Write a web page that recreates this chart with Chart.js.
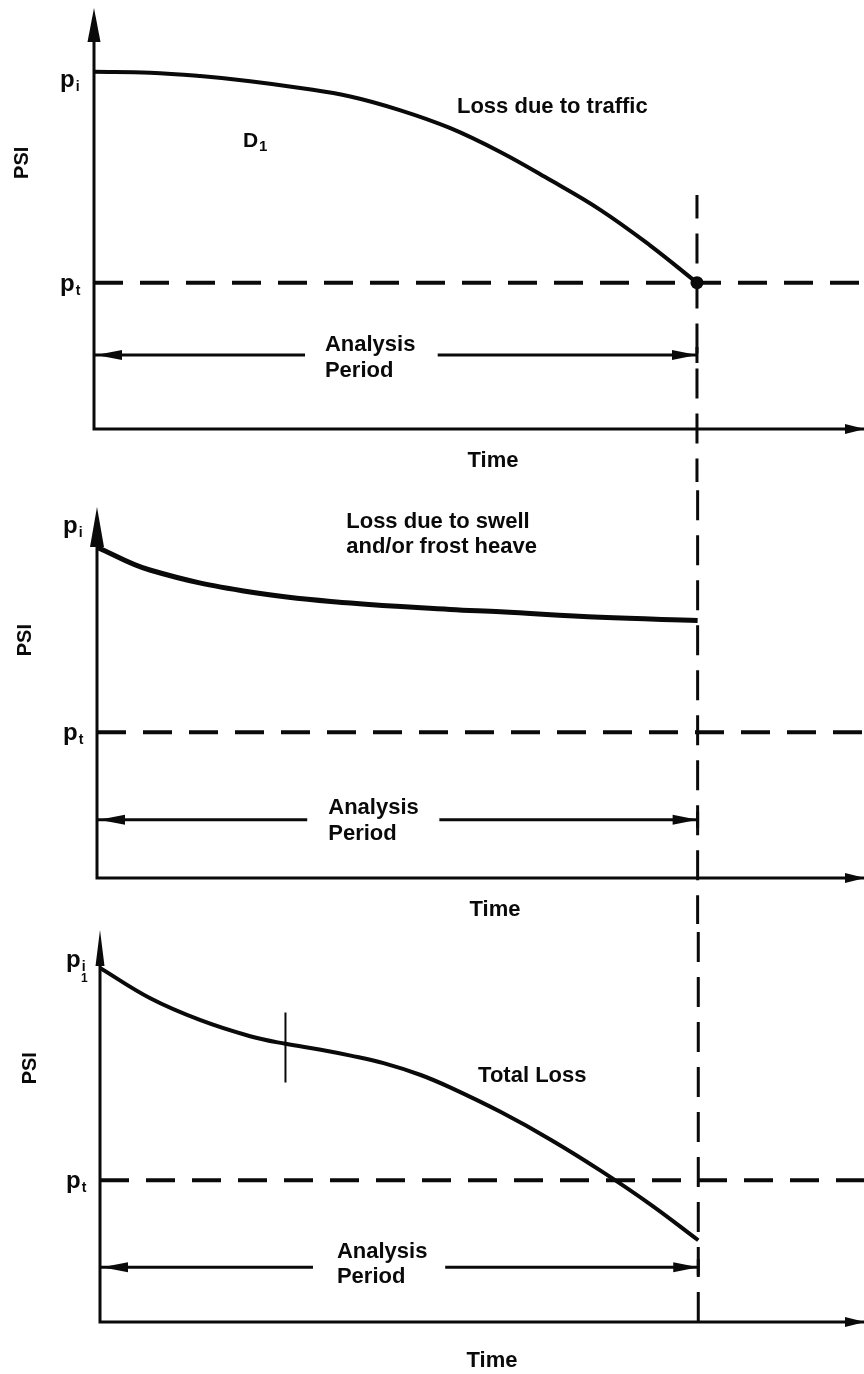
<!DOCTYPE html>
<html>
<head>
<meta charset="utf-8">
<script src="https://cdn.jsdelivr.net/npm/chart.js@4.4.1/dist/chart.umd.min.js"></script>
<style>
  html, body { margin: 0; padding: 0; background: #fff; }
  #wrap { position: relative; width: 864px; height: 1374px; overflow: hidden; }
  canvas { position: absolute; left: 0; }
</style>
</head>
<body>
<div id="wrap">
  <canvas id="panel1" width="864" height="482" style="top:0px"></canvas>
  <canvas id="panel2" width="864" height="442" style="top:482px"></canvas>
  <canvas id="panel3" width="864" height="450" style="top:924px"></canvas>
</div>
<script>
'use strict';

// time is in units of the analysis period, PSI in plot units (p_i = 4.2)
const ANALYSIS_END = 1.0;
const TIME_MAX = 1.277;

const trafficTime = [0, 0.093, 0.176, 0.259, 0.342, 0.425, 0.507, 0.590, 0.673, 0.756, 0.839, 0.922, 1.0];
const trafficPsi = [4.20, 4.19, 4.15, 4.09, 4.01, 3.91, 3.75, 3.54, 3.26, 2.93, 2.58, 2.16, 1.72];

const swellTime = [0, 0.088, 0.255, 0.422, 0.588, 0.672, 0.838, 1.0];
const swellPsi = [4.20, 3.91, 3.63, 3.49, 3.41, 3.38, 3.31, 3.27];

const totalTime = [0, 0.084, 0.168, 0.251, 0.310, 0.369, 0.419, 0.474, 0.536, 0.586, 0.670, 0.754, 0.838, 0.921, 1.0];
const totalPsi = [4.20, 3.84, 3.58, 3.39, 3.30, 3.23, 3.16, 3.07, 2.93, 2.78, 2.49, 2.16, 1.79, 1.39, 0.97];

const initialPsi = [4.2, 4.2, 4.2];
const terminalPsi = [1.72, 1.85, 1.68];
const periodArrowPsi = [0.87, 0.74, 0.65];
const psiAxisMax = [4.95, 4.71, 4.65];

// the vertical dashed line at the end of the analysis period (bottom, top in PSI units)
const endLineBottom = [-0.7, -0.6, 0];
const endLineTop = [2.75, 5.1, 4.8];

// gap in the analysis period arrow where the label sits
const periodGapStart = [0.35, 0.35, 0.356];
const periodGapEnd = [0.57, 0.57, 0.577];

// short tick on the total loss curve
const tickTime = 0.31;
const tickPsi = [3.67, 2.84];

const curveLabels = [['Loss due to traffic'], ['Loss due to swell', 'and/or frost heave'], ['Total Loss']];
const curveLabelTime = [0.602, 0.415, 0.632];
const curveLabelPsi = [3.72, 4.44, 2.85];
const periodLabelTime = [0.383, 0.385, 0.396];

const FONT = '"Liberation Sans", Arial, Helvetica, sans-serif';
const INK = '#0a0a0a';

function toPoints(xs, ys) {
    return xs.map((x, i) => ({ x: x, y: ys[i] }));
}

function arrowHead(ctx, tipX, tipY, dx, dy, len, halfW) {
    const bx = tipX - dx * len;
    const by = tipY - dy * len;
    ctx.beginPath();
    ctx.moveTo(tipX, tipY);
    ctx.lineTo(bx - dy * halfW, by + dx * halfW);
    ctx.lineTo(bx + dy * halfW, by - dx * halfW);
    ctx.closePath();
    ctx.fill();
}

function subLabel(ctx, main, sub, x, y, mainSize, subSize) {
    ctx.textAlign = 'left';
    ctx.font = 'bold ' + mainSize + 'px ' + FONT;
    ctx.fillText(main, x, y);
    const w = ctx.measureText(main).width;
    ctx.font = 'bold ' + subSize + 'px ' + FONT;
    ctx.fillText(sub, x + w + 1, y + 4);
}

function makePanel(index, canvasId, curveTime, curvePsi, setup) {
    const datasets = [
        {
            data: toPoints(curveTime, curvePsi),
            showLine: true,
            borderColor: INK,
            borderWidth: setup.curveWidth,
            pointRadius: 0,
            tension: 0.4,
        },
        {
            data: toPoints([0, TIME_MAX], [terminalPsi[index], terminalPsi[index]]),
            showLine: true,
            borderColor: INK,
            borderWidth: 4,
            borderDash: [29, 17],
            pointRadius: 0,
        },
        {
            // drawn upwards so a dash meets the time axis
            data: toPoints([ANALYSIS_END, ANALYSIS_END], [endLineBottom[index], endLineTop[index]]),
            showLine: true,
            borderColor: INK,
            borderWidth: 3,
            borderDash: [30, 15],
            pointRadius: 0,
            clip: false,
        },
        {
            data: toPoints([0, periodGapStart[index]], [periodArrowPsi[index], periodArrowPsi[index]]),
            showLine: true,
            borderColor: INK,
            borderWidth: 3,
            pointRadius: 0,
        },
        {
            data: toPoints([periodGapEnd[index], ANALYSIS_END], [periodArrowPsi[index], periodArrowPsi[index]]),
            showLine: true,
            borderColor: INK,
            borderWidth: 3,
            pointRadius: 0,
        },
    ];
    if (index === 0) {
        // terminal point where traffic loss reaches p_t
        datasets.push({
            data: toPoints([ANALYSIS_END], [terminalPsi[0]]),
            showLine: false,
            pointRadius: 6.5,
            pointBackgroundColor: INK,
            pointBorderWidth: 0,
        });
    }
    if (index === 2) {
        datasets.push({
            data: toPoints([tickTime, tickTime], tickPsi),
            showLine: true,
            borderColor: INK,
            borderWidth: 2,
            pointRadius: 0,
        });
    }

    const decorations = {
        id: 'decorations' + index,
        afterDatasetsDraw(chart) {
            const ctx = chart.ctx;
            const area = chart.chartArea;
            const xs = chart.scales.x;
            const ys = chart.scales.y;
            ctx.save();
            ctx.fillStyle = INK;
            ctx.strokeStyle = INK;

            // axes
            ctx.lineWidth = 3;
            ctx.beginPath();
            ctx.moveTo(area.left, area.top + setup.yArrowLen - 4);
            ctx.lineTo(area.left, area.bottom);
            ctx.lineTo(area.right, area.bottom);
            ctx.stroke();
            arrowHead(ctx, area.left, area.top, 0, -1, setup.yArrowLen, setup.yArrowHalf);
            arrowHead(ctx, area.right + 1, area.bottom, 1, 0, 20, 5);

            // analysis period arrows
            const ay = ys.getPixelForValue(periodArrowPsi[index]);
            const endX = xs.getPixelForValue(ANALYSIS_END);
            arrowHead(ctx, area.left + 2, ay, -1, 0, 26, 5);
            arrowHead(ctx, endX, ay, 1, 0, 25, 5);
            ctx.lineWidth = 3;
            ctx.beginPath();
            ctx.moveTo(endX, ay - 8);
            ctx.lineTo(endX, ay + 8);
            ctx.stroke();

            ctx.textBaseline = 'alphabetic';
            ctx.font = 'bold 22px ' + FONT;
            ctx.textAlign = 'left';
            const px = xs.getPixelForValue(periodLabelTime[index]);
            ctx.fillText('Analysis', px, ay + setup.periodUp);
            ctx.fillText('Period', px, ay + setup.periodDown);

            // curve label
            const cx = xs.getPixelForValue(curveLabelTime[index]);
            let cy = ys.getPixelForValue(curveLabelPsi[index]);
            curveLabels[index].forEach((line) => {
                ctx.fillText(line, cx, cy);
                cy += 25;
            });

            // Time label
            ctx.textAlign = 'center';
            ctx.fillText('Time', setup.timeX, area.bottom + setup.timeDown);

            // PSI label
            ctx.save();
            ctx.translate(area.left - 72 + setup.psiShift, ys.getPixelForValue(setup.psiAt));
            ctx.rotate(-Math.PI / 2);
            ctx.textAlign = 'center';
            ctx.textBaseline = 'middle';
            ctx.font = 'bold 20px ' + FONT;
            ctx.fillText('PSI', 0, 0);
            ctx.restore();

            // p_i and p_t
            const lx = area.left - 34;
            subLabel(ctx, 'p', 'i', lx, ys.getPixelForValue(initialPsi[index]) + setup.piDown, 24, 14);
            subLabel(ctx, 'p', 't', lx, ys.getPixelForValue(terminalPsi[index]) + 8, 24, 14);

            if (index === 0) {
                subLabel(ctx, 'D', '1', xs.getPixelForValue(0.247), ys.getPixelForValue(3.32), 21, 15);
            }
            if (index === 2) {
                ctx.font = 'bold 12px ' + FONT;
                ctx.textAlign = 'left';
                ctx.fillText('1', lx + 15, ys.getPixelForValue(initialPsi[index]) + 14);
            }
            ctx.restore();
        }
    };

    return new Chart(document.getElementById(canvasId), {
        type: 'scatter',
        data: { datasets: datasets },
        options: {
            responsive: false,
            animation: false,
            events: [],
            layout: { padding: setup.padding, autoPadding: false },
            plugins: { legend: { display: false }, tooltip: { enabled: false } },
            scales: {
                x: { type: 'linear', min: 0, max: TIME_MAX, display: false },
                y: { type: 'linear', min: 0, max: psiAxisMax[index], display: false },
            },
        },
        plugins: [decorations],
    });
}

makePanel(0, 'panel1', trafficTime, trafficPsi, {
    padding: { left: 94, right: 0, top: 8, bottom: 53 },
    curveWidth: 4, yArrowLen: 34, yArrowHalf: 6.5,
    periodUp: -4, periodDown: 22, timeX: 493, timeDown: 38,
    psiAt: 3.13, psiShift: 0, piDown: 15,
});
makePanel(1, 'panel2', swellTime, swellPsi, {
    padding: { left: 97, right: 0, top: 25, bottom: 46 },
    curveWidth: 5, yArrowLen: 40, yArrowHalf: 7,
    periodUp: -6, periodDown: 20, timeX: 495, timeDown: 38,
    psiAt: 3.02, psiShift: 0, piDown: -14,
});
makePanel(2, 'panel3', totalTime, totalPsi, {
    padding: { left: 100, right: 0, top: 6, bottom: 52 },
    curveWidth: 4, yArrowLen: 36, yArrowHalf: 4.5,
    periodUp: -9, periodDown: 16, timeX: 492, timeDown: 45,
    psiAt: 3.01, psiShift: 2, piDown: -1,
});
</script>
</body>
</html>
